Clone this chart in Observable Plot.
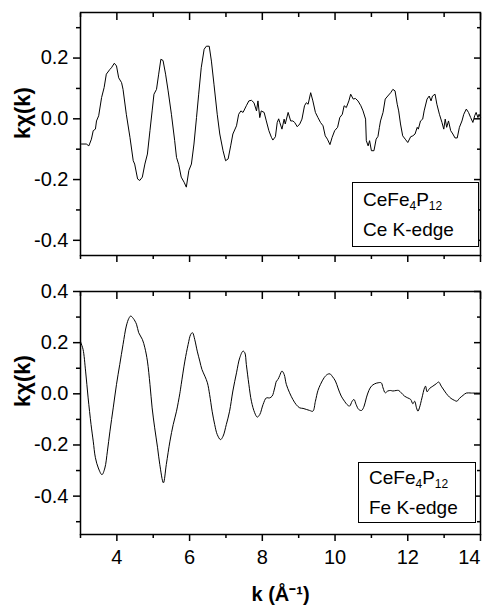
<!DOCTYPE html>
<html><head><meta charset="utf-8">
<script src="https://cdn.jsdelivr.net/npm/d3@7"></script>
<script src="https://cdn.jsdelivr.net/npm/@observablehq/plot@0.6"></script>
<style>
body{margin:0;background:#fff;}
#wrap{position:relative;width:490px;height:608px;font-family:Arial,"Liberation Sans",sans-serif;overflow:hidden;}
#wrap svg{display:block;}
.legend{position:absolute;box-sizing:border-box;border:1px solid #000;background:#fff;font-size:19px;line-height:30px;padding-left:10px;color:#000;white-space:nowrap;}
.legend .s{font-size:12px;vertical-align:-4px;line-height:0;}
</style>
</head><body>
<div id="wrap"></div>
<script>
// ---- data ----
const ceK = [3.00,3.03,3.16,3.23,3.30,3.35,3.41,3.44,3.50,3.58,3.65,3.71,3.81,3.85,3.93,3.99,4.05,4.13,4.17,4.26,4.36,4.45,4.49,4.57,4.63,4.70,4.77,4.84,4.91,4.97,5.02,5.09,5.15,5.21,5.27,5.34,5.41,5.50,5.59,5.64,5.70,5.77,5.85,5.91,5.98,6.05,6.12,6.19,6.25,6.32,6.40,6.46,6.54,6.60,6.67,6.76,6.83,6.92,6.99,7.06,7.13,7.19,7.29,7.35,7.41,7.47,7.56,7.63,7.70,7.77,7.84,7.88,7.93,7.97,8.05,8.11,8.18,8.25,8.29,8.36,8.41,8.45,8.48,8.54,8.60,8.63,8.71,8.78,8.84,8.89,8.96,9.03,9.09,9.16,9.21,9.26,9.33,9.39,9.46,9.53,9.60,9.67,9.73,9.79,9.86,9.92,9.99,10.07,10.13,10.20,10.25,10.31,10.38,10.43,10.50,10.56,10.63,10.71,10.77,10.84,10.86,10.91,10.95,11.00,11.07,11.13,11.18,11.22,11.25,11.32,11.38,11.45,11.53,11.59,11.65,11.71,11.75,11.80,11.86,11.93,12.00,12.08,12.14,12.20,12.26,12.29,12.35,12.41,12.45,12.53,12.59,12.64,12.68,12.75,12.80,12.87,12.94,12.99,13.03,13.07,13.12,13.18,13.24,13.30,13.36,13.42,13.49,13.54,13.61,13.67,13.73,13.79,13.84,13.88,13.93,13.96,14.00];
const ceChi = [-0.083,-0.083,-0.083,-0.089,-0.067,-0.039,-0.034,-0.007,0.010,0.070,0.103,0.147,0.163,0.168,0.183,0.174,0.135,0.119,0.097,0.015,-0.061,-0.138,-0.149,-0.198,-0.203,-0.192,-0.149,-0.116,-0.039,0.026,0.081,0.097,0.147,0.196,0.192,0.147,0.092,0.015,-0.072,-0.127,-0.150,-0.192,-0.209,-0.225,-0.170,-0.149,-0.083,0.004,0.081,0.168,0.229,0.239,0.239,0.190,0.114,0.015,-0.050,-0.105,-0.138,-0.132,-0.089,-0.050,-0.023,0.015,0.026,0.021,0.043,0.059,0.061,0.053,0.026,0.059,0.004,0.026,0.021,-0.007,-0.039,-0.061,-0.070,-0.059,-0.012,0.000,-0.012,-0.034,-0.001,-0.017,0.021,-0.007,-0.007,-0.012,-0.026,-0.017,-0.001,0.043,0.053,0.048,0.086,0.059,0.021,0.004,-0.012,-0.023,-0.056,-0.067,-0.085,-0.061,-0.039,-0.028,0.004,0.015,0.043,0.037,0.059,0.081,0.065,0.067,0.059,0.043,0.026,-0.001,-0.072,-0.089,-0.072,-0.105,-0.105,-0.067,-0.058,-0.028,-0.007,0.021,0.065,0.075,0.086,0.097,0.092,0.048,0.026,-0.017,-0.056,-0.067,-0.078,-0.059,-0.056,-0.050,-0.028,-0.034,-0.007,-0.001,0.026,0.065,0.075,0.059,0.075,0.081,0.048,0.015,-0.012,-0.034,-0.001,-0.028,-0.007,-0.039,-0.050,-0.063,-0.063,-0.028,-0.007,0.015,0.032,0.021,0.004,-0.012,0.010,0.021,0.004,0.015,0.005];

const feK = [3.00,3.01,3.07,3.14,3.21,3.29,3.35,3.41,3.49,3.59,3.67,3.74,3.81,3.90,3.99,4.08,4.17,4.26,4.33,4.38,4.45,4.54,4.60,4.70,4.77,4.84,4.91,4.97,5.04,5.12,5.18,5.28,5.36,5.46,5.55,5.64,5.73,5.77,5.87,5.96,6.03,6.08,6.14,6.21,6.28,6.34,6.42,6.49,6.55,6.62,6.69,6.76,6.85,6.92,7.01,7.10,7.19,7.29,7.38,7.47,7.52,7.56,7.63,7.70,7.79,7.86,7.93,8.02,8.11,8.20,8.27,8.34,8.39,8.43,8.48,8.54,8.60,8.66,8.75,8.84,8.93,9.03,9.12,9.21,9.30,9.39,9.46,9.53,9.60,9.70,9.79,9.86,9.92,10.01,10.08,10.17,10.26,10.33,10.40,10.47,10.52,10.58,10.65,10.73,10.80,10.86,10.93,11.00,11.09,11.18,11.27,11.32,11.38,11.45,11.53,11.59,11.68,11.75,11.82,11.91,12.00,12.08,12.14,12.19,12.24,12.28,12.32,12.39,12.46,12.49,12.53,12.60,12.69,12.78,12.85,12.92,13.01,13.10,13.19,13.29,13.35,13.42,13.52,13.61,13.75,14.00];
const feChi = [0.205,0.200,0.174,0.089,-0.016,-0.120,-0.185,-0.250,-0.290,-0.316,-0.290,-0.224,-0.146,-0.055,0.037,0.115,0.193,0.265,0.295,0.304,0.295,0.272,0.239,0.213,0.180,0.128,0.037,-0.055,-0.133,-0.211,-0.276,-0.348,-0.276,-0.185,-0.120,-0.068,0.000,0.037,0.128,0.193,0.232,0.239,0.213,0.167,0.128,0.095,0.069,0.043,-0.002,-0.068,-0.120,-0.159,-0.179,-0.166,-0.120,-0.068,0.011,0.082,0.141,0.167,0.160,0.115,0.037,-0.029,-0.074,-0.091,-0.081,-0.042,-0.016,-0.016,-0.009,0.023,0.050,0.056,0.072,0.089,0.076,0.037,0.004,-0.022,-0.042,-0.055,-0.057,-0.061,-0.065,-0.068,-0.029,0.013,0.037,0.063,0.076,0.078,0.069,0.050,0.023,-0.009,-0.029,-0.042,-0.048,-0.029,-0.022,-0.042,-0.061,-0.065,-0.048,-0.016,0.013,0.030,0.039,0.043,0.043,0.023,0.004,0.011,0.013,0.011,0.013,0.013,0.004,-0.009,-0.016,-0.022,-0.039,-0.029,-0.055,-0.068,-0.055,-0.016,0.023,0.030,0.008,0.021,0.030,0.039,0.046,0.030,0.011,-0.006,-0.018,-0.026,-0.029,-0.018,-0.006,0.003,0.003,0.003];

const xMajor = [4,6,8,10,12,14];
const xMinor = [3,5,7,9,11,13];
const topYMajor = [-0.4,-0.2,0,0.2];
const topYMinor = [-0.3,-0.1,0.1,0.3];
const botYMajor = [-0.4,-0.2,0,0.2,0.4];
const botYMinor = [-0.5,-0.3,-0.1,0.1,0.3];
const yLabel = "kχ(k)";
const xLabel = "k (Å⁻¹)";

const blank = () => "";
const fmt = d => d.toFixed(1);
const SW = 1.5;

function panel({k, chi, yDomain, yMajor, yMinor, height, marginTop, marginBottom, showX, curve, labelDy}) {
  const data = k.map((d, i) => ({k: d, chi: chi[i]}));
  const xInner = xMajor.slice(0, -1);
  const xLast = xMajor.slice(-1);
  const marks = [
    Plot.line(data, {x: "k", y: "chi", stroke: "#000", strokeWidth: 1, curve}),
    Plot.frame({stroke: "#000", strokeWidth: SW}),
    Plot.axisY(yMajor, {anchor: "left", tickSize: 7, tickPadding: 5, tickFormat: fmt, fontSize: 20, strokeWidth: SW, label: null}),
    Plot.axisY(yMinor, {anchor: "left", tickSize: 4, tickFormat: blank, strokeWidth: SW, label: null}),
    Plot.axisY(yMajor, {anchor: "right", tickSize: 7, dx: -7, tickFormat: blank, strokeWidth: SW, label: null}),
    Plot.axisY(yMinor, {anchor: "right", tickSize: 4, dx: -4, tickFormat: blank, strokeWidth: SW, label: null}),
    Plot.axisX(xMajor, {anchor: "top", tickSize: 7, dy: 7, tickFormat: blank, strokeWidth: SW, label: null}),
    Plot.axisX(xMinor, {anchor: "top", tickSize: 4, dy: 4, tickFormat: blank, strokeWidth: SW, label: null}),
    Plot.axisX(xInner, {anchor: "bottom", tickSize: 7, tickPadding: 8, tickFormat: showX ? (d => String(d)) : blank, fontSize: 20, strokeWidth: SW, label: null}),
    Plot.axisX(xLast, {anchor: "bottom", tickSize: 7, tickPadding: 8, tickFormat: showX ? (d => String(d)) : blank, fontSize: 20, textAnchor: "end", strokeWidth: SW, label: null}),
    Plot.axisX(xMinor, {anchor: "bottom", tickSize: 4, tickFormat: blank, strokeWidth: SW, label: null}),
    Plot.text([yLabel], {text: d => d, frameAnchor: "left", dx: -58, dy: labelDy, rotate: -90, fontWeight: "bold", fontSize: 22})
  ];
  if (showX) {
    marks.push(Plot.text([xLabel], {text: d => d, frameAnchor: "bottom", dy: 66, lineAnchor: "bottom", fontWeight: "bold", fontSize: 20}));
  }
  return Plot.plot({
    width: 490, height, marginLeft: 80, marginRight: 10, marginTop, marginBottom,
    x: {domain: [3, 14]},
    y: {domain: yDomain},
    style: {fontFamily: "Arial, 'Liberation Sans', sans-serif", background: "#fff", color: "#000", overflow: "visible"},
    marks
  });
}

const wrap = document.getElementById("wrap");
wrap.appendChild(panel({k: ceK, chi: ceChi, yDomain: [-0.45, 0.35], yMajor: topYMajor, yMinor: topYMinor,
  height: 270, marginTop: 12, marginBottom: 15, showX: false, curve: "linear", labelDy: 5}));
wrap.appendChild(panel({k: feK, chi: feChi, yDomain: [-0.55, 0.4], yMajor: botYMajor, yMinor: botYMinor,
  height: 338, marginTop: 21, marginBottom: 74, showX: true, curve: "catmull-rom", labelDy: -6}));

function legend(left, top, w, h, padTop, l2) {
  const d = document.createElement("div");
  d.className = "legend";
  Object.assign(d.style, {left: left + "px", top: top + "px", width: w + "px", height: h + "px", paddingTop: padTop + "px"});
  d.innerHTML = 'CeFe<span class="s">4</span>P<span class="s">12</span><br>' + l2;
  wrap.appendChild(d);
}
legend(352, 182, 127, 65, 2, "Ce K-edge");
legend(358, 462, 118, 61, 0, "Fe K-edge");
</script>
</body></html>
